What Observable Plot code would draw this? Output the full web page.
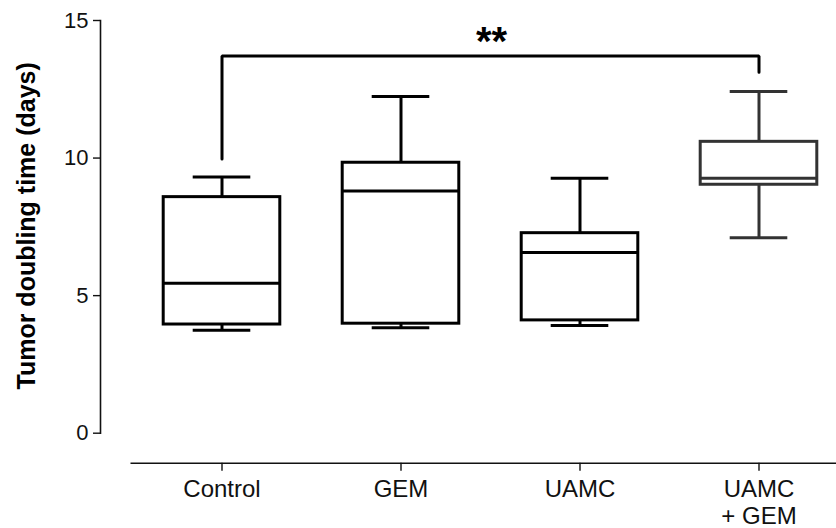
<!DOCTYPE html>
<html>
<head>
<meta charset="utf-8">
<script src="https://cdn.jsdelivr.net/npm/d3@7"></script>
<script src="https://cdn.jsdelivr.net/npm/@observablehq/plot@0.6"></script>
<style>
  html, body { margin: 0; padding: 0; background: #fff; }
  #chart svg { display: block; }
</style>
</head>
<body>
<div id="chart"></div>
<script>
// ---- data ----
const groups       = ["Control", "GEM", "UAMC", "UAMC\n+ GEM"];
const whiskerLow   = [3.74, 3.83, 3.91, 7.10];
const q1           = [3.95, 3.98, 4.10, 9.03];
const median       = [5.45, 8.80, 6.57, 9.27];
const q3           = [8.58, 9.83, 7.27, 10.59];
const whiskerHigh  = [9.31, 12.24, 9.27, 12.42];
const yTicks       = [0, 5, 10, 15];
const yLabel       = "Tumor doubling time (days)";
// significance bracket
const sigPair      = ["Control", "UAMC\n+ GEM"];
const sigLevel     = 13.71;
const sigEnds      = [9.97, 13.12];
const sigLabel     = "**";

const boxes = groups.map((g, i) => ({
  group: g, lo: whiskerLow[i], q1: q1[i], med: median[i], q3: q3[i], hi: whiskerHigh[i]
}));
const strokeOf = d => d.group === "UAMC\n+ GEM" ? "#333" : "#000";

const bracketPts = [
  {x: sigPair[0], y: sigEnds[0]},
  {x: sigPair[0], y: sigLevel},
  {x: sigPair[1], y: sigLevel},
  {x: sigPair[1], y: sigEnds[1]}
];

const W = 836, H = 528;
const chart = Plot.plot({
  width: W,
  height: H,
  marginLeft: 100,
  marginRight: 0,
  marginTop: 20,
  marginBottom: 65.3,
  style: {fontFamily: "Liberation Sans, Arial, Helvetica, sans-serif", background: "#fff", color: "#111"},
  x: {domain: groups, range: [130.8, 848.4], padding: 0, label: null},
  y: {domain: [0, 15], range: [432.7, 20], label: null},
  marks: [
    // axis lines
    Plot.frame({anchor: "left", insetBottom: 30, stroke: "#111", strokeWidth: 1.6}),
    Plot.frame({anchor: "bottom", insetLeft: 30.8, stroke: "#111", strokeWidth: 1.6}),
    Plot.axisY({ticks: yTicks, tickSize: 7, tickPadding: 5, fontSize: 22, label: null, strokeWidth: 1.4, stroke: "#111"}),
    Plot.axisX({tickSize: 8, tickPadding: 6, fontSize: 24, lineHeight: 1.15, label: null, strokeWidth: 1.4, stroke: "#111"}),
    // whiskers
    Plot.ruleX(boxes, {x: "group", y1: "q3", y2: "hi", stroke: strokeOf, strokeWidth: 3}),
    Plot.ruleX(boxes, {x: "group", y1: "lo", y2: "q1", stroke: strokeOf, strokeWidth: 3}),
    Plot.tickY(boxes, {x: "group", y: "hi", insetLeft: 60.7, insetRight: 60.7, stroke: strokeOf, strokeWidth: 3}),
    Plot.tickY(boxes, {x: "group", y: "lo", insetLeft: 60.7, insetRight: 60.7, stroke: strokeOf, strokeWidth: 3}),
    // boxes
    Plot.barY(boxes, {x: "group", y1: "q1", y2: "q3", insetLeft: 31.2, insetRight: 31.2, fill: "#fff", stroke: strokeOf, strokeWidth: 3}),
    Plot.tickY(boxes, {x: "group", y: "med", insetLeft: 31.2, insetRight: 31.2, stroke: strokeOf, strokeWidth: 3}),
    // significance bracket
    Plot.line(bracketPts, {x: "x", y: "y", stroke: "#000", strokeWidth: 3, strokeLinejoin: "miter", curve: "linear"}),
    Plot.text([sigLabel], {x: () => "GEM", y: () => sigLevel, text: d => d, dx: 90.6, dy: -14, fontSize: 40, fontWeight: "bold", fill: "#000"}),
    // y title
    Plot.text([yLabel], {frameAnchor: "left", textAnchor: "middle", text: d => d, rotate: -90, dx: -74, dy: -16, fontSize: 25, fontWeight: "bold", fill: "#000"})
  ]
});
document.getElementById("chart").appendChild(chart);
</script>
</body>
</html>
